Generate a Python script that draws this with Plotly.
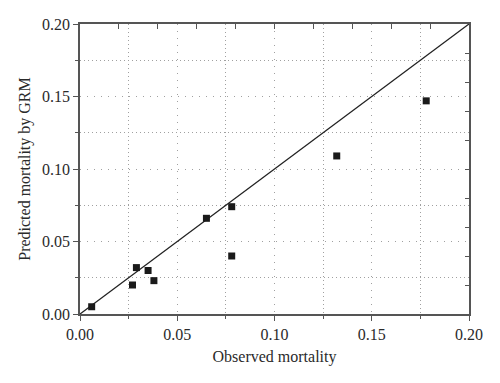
import plotly.graph_objects as go

observed = [0.006, 0.027, 0.029, 0.035, 0.038, 0.065, 0.078, 0.078, 0.132, 0.178]
predicted = [0.005, 0.020, 0.032, 0.030, 0.023, 0.066, 0.074, 0.040, 0.109, 0.147]
line_x = [0.0, 0.2]
line_y = [0.0, 0.2]
x_title = "Observed mortality"
y_title = "Predicted mortality by GRM"

font_family = "Liberation Serif"
axis_color = "#555555"
grid_color = "#a0a0a0"
text_color = "#2a2a2a"

fig = go.Figure()
fig.add_trace(go.Scatter(x=line_x, y=line_y, mode="lines",
                         line=dict(color="#222222", width=1.3), showlegend=False))
fig.add_trace(go.Scatter(x=observed, y=predicted, mode="markers",
                         marker=dict(symbol="square", size=7, color="#1a1a1a"),
                         showlegend=False))
# invisible trace to activate the top/right tick axes
fig.add_trace(go.Scatter(x=line_x, y=line_y, mode="lines", xaxis="x2", yaxis="y2",
                         line=dict(width=0), hoverinfo="skip", showlegend=False))

common = dict(
    range=[0, 0.2], dtick=0.05, tickformat=".2f", automargin=False,
    ticks="outside", ticklen=5, tickwidth=1, tickcolor=axis_color,
    showline=True, linecolor=axis_color, linewidth=1.5, mirror=True,
    showgrid=True, gridcolor=grid_color, gridwidth=1, griddash="1px,6px",
    zeroline=False,
    minor=dict(dtick=0.025, ticks="outside", ticklen=3, tickcolor=axis_color,
               showgrid=True, gridcolor=grid_color, griddash="1px,3px"),
    tickfont=dict(family=font_family, size=16, color=text_color),
)

fig.update_layout(
    width=492, height=375,
    margin=dict(l=72, r=31, t=16, b=69),
    paper_bgcolor="white", plot_bgcolor="white",
    font=dict(family=font_family, size=16, color=text_color),
    xaxis=dict(**common, title=dict(text=x_title, font=dict(size=16), standoff=9)),
    yaxis=dict(**common, title=dict(text=y_title, font=dict(size=16), standoff=7)),
    xaxis2=dict(range=[0, 0.2], dtick=0.02, overlaying="x", side="top", automargin=False,
                ticks="inside", ticklen=5, tickcolor=axis_color, showticklabels=False,
                showgrid=False, zeroline=False, showline=False),
    yaxis2=dict(range=[0, 0.2], dtick=0.02, overlaying="y", side="right", automargin=False,
                ticks="inside", ticklen=4, tickcolor=axis_color, showticklabels=False,
                showgrid=False, zeroline=False, showline=False),
)

fig.write_html("out.html")
